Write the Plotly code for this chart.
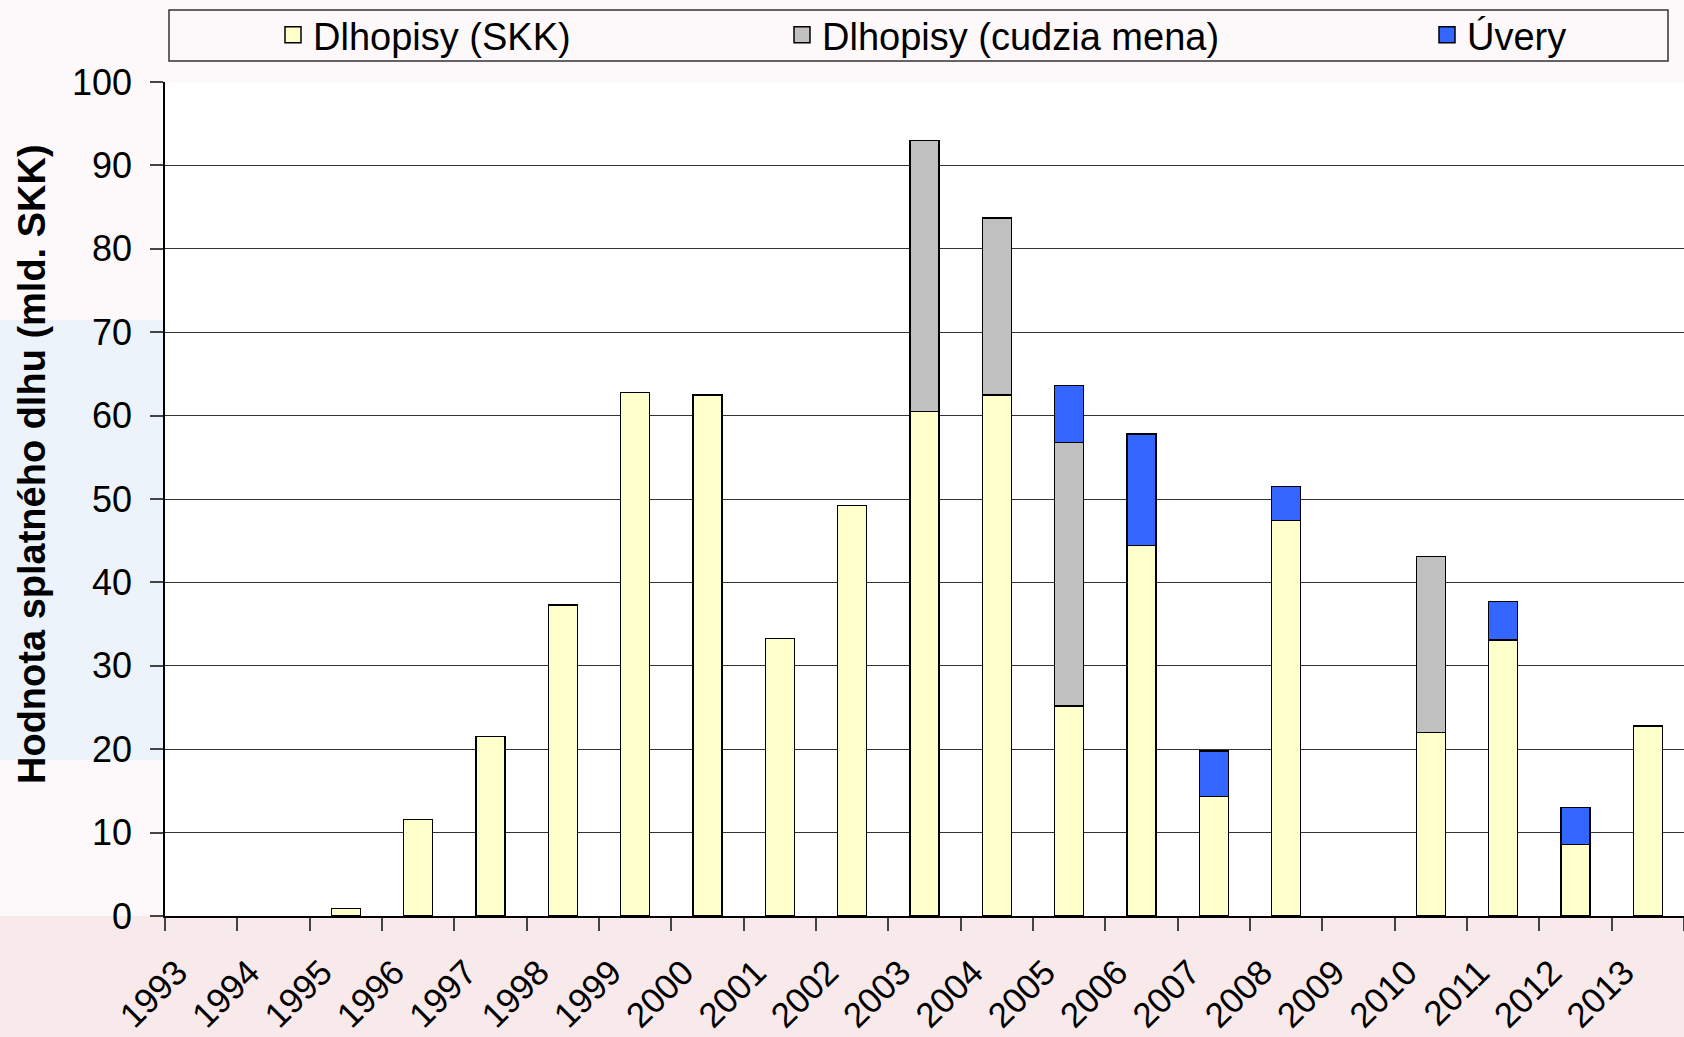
import plotly.graph_objects as go

years = [str(y) for y in range(1993, 2014)]
bonds_skk = [0, 0, 0.9, 11.6, 21.5, 37.3, 62.8, 62.5, 33.3, 49.2, 60.5, 62.5, 25.2, 44.4, 14.3, 47.4, 0, 22.0, 33.1, 8.6, 22.8]
bonds_fx = [0, 0, 0, 0, 0, 0, 0, 0, 0, 0, 32.5, 21.2, 31.6, 0, 0, 0, 0, 21.1, 0, 0, 0]
loans = [0, 0, 0, 0, 0, 0, 0, 0, 0, 0, 0, 0, 6.8, 13.4, 5.5, 4.1, 0, 0, 4.6, 4.4, 0]

names = ["Dlhopisy (SKK)", "Dlhopisy (cudzia mena)", "Úvery"]
colors = ["#FFFFCC", "#C0C0C0", "#3366FF"]
series = [bonds_skk, bonds_fx, loans]
legend_ids = ["legend", "legend2", "legend3"]

W, H = 1684, 1037
L, R, T, B = 165, 0, 82, 121
plot_w = W - L - R
plot_h = H - T - B

def px_x(x):
    return (x - L) / plot_w

def px_y(y):
    return (H - B - y) / plot_h

fig = go.Figure()
for name, col, vals, lg in zip(names, colors, series, legend_ids):
    fig.add_trace(go.Bar(
        x=years, y=[v if v else None for v in vals], name=name, legend=lg,
        showlegend=False,
        marker=dict(color=col, line=dict(color="#000000", width=1.5)),
    ))
    # legend entry with a larger square swatch
    fig.add_trace(go.Scatter(
        x=[None], y=[None], mode="markers", name=name, legend=lg,
        marker=dict(symbol="square", size=20, color=col, line=dict(color="#000", width=1.5)),
    ))

font_fam = "Liberation Sans, Arial, sans-serif"
leg_common = dict(orientation="h", bgcolor="rgba(0,0,0,0)", borderwidth=0,
                  itemsizing="trace",
                  font=dict(family=font_fam, size=38, color="#000"),
                  xanchor="left", yanchor="middle", y=px_y(35))

fig.update_layout(
    width=W, height=H,
    margin=dict(l=L, r=R, t=T, b=B, pad=0, autoexpand=False),
    barmode="stack", bargap=0.6,
    paper_bgcolor="#fdf9fa", plot_bgcolor="#ffffff",
    font=dict(family=font_fam, color="#000"),
    legend=dict(x=px_x(273), **leg_common),
    legend2=dict(x=px_x(782), **leg_common),
    legend3=dict(x=px_x(1427), **leg_common),
    xaxis=dict(type="category", tickson="boundaries", ticks="outside", ticklen=13,
               tickcolor="#444", tickwidth=1.5, tickangle=-45,
               tickfont=dict(size=35), showline=True, linecolor="#000", linewidth=1.5,
               showgrid=False, ticklabelstandoff=20, ticklabelshift=-24),
    yaxis=dict(range=[0, 100], tickvals=list(range(0, 101, 10)), ticks="outside", ticklen=13,
               tickcolor="#444", tickwidth=1.5, tickfont=dict(size=36),
               showline=True, linecolor="#000", linewidth=1.5,
               showgrid=True, gridcolor="#333", gridwidth=1, zeroline=False,
               ticklabelstandoff=11),
    showlegend=True,
)

# background tints outside the plot area
fig.add_shape(type="rect", xref="paper", yref="paper", layer="below",
              x0=px_x(0), x1=px_x(165), y0=px_y(760), y1=px_y(320),
              fillcolor="#edf3fa", line=dict(width=0))
fig.add_shape(type="rect", xref="paper", yref="paper", layer="below",
              x0=px_x(0), x1=1, y0=px_y(H), y1=px_y(916),
              fillcolor="#f8e9eb", line=dict(width=0))

# legend frame
fig.add_shape(type="rect", xref="paper", yref="paper",
              x0=px_x(169), x1=px_x(1668), y0=px_y(61), y1=px_y(10),
              fillcolor="rgba(255,255,255,0)", line=dict(color="#333", width=1.5))

fig.add_annotation(text="<b>Hodnota splatného dlhu (mld. SKK)</b>", textangle=-90,
                   xref="paper", yref="paper", x=px_x(32), y=px_y(464),
                   xanchor="center", yanchor="middle",
                   showarrow=False, font=dict(size=38, family=font_fam, color="#000"))

fig.write_html("out.html", config={"displayModeBar": False},
               post_script="document.body.style.margin='0';document.body.style.overflow='hidden';")
